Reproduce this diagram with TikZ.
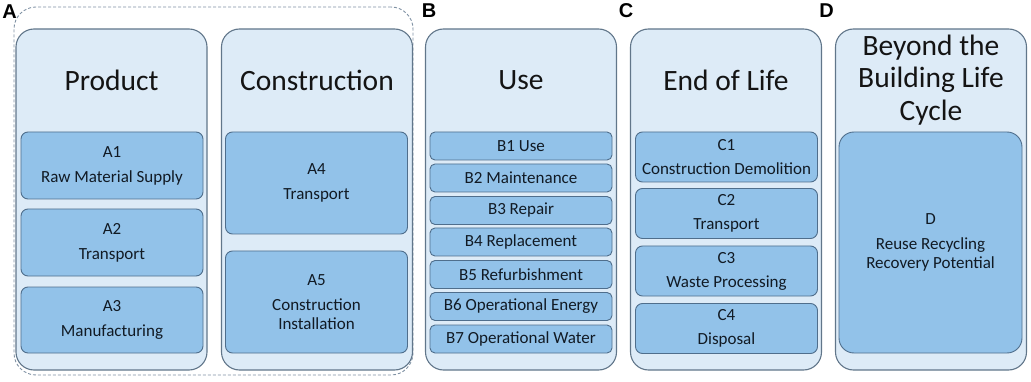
\documentclass[tikz,border=0pt]{standalone}
\usepackage{fontspec}
\setmainfont{Carlito}
\newfontfamily\letterfont{Liberation Sans}
\definecolor{panelfill}{HTML}{DDEBF7}
\definecolor{panelline}{HTML}{61768A}
\definecolor{boxfill}{HTML}{92C2E9}
\definecolor{boxline}{HTML}{4F6E8C}
\definecolor{groupline}{HTML}{7F91A3}
\definecolor{inktext}{HTML}{111A24}

\begin{document}
\begin{tikzpicture}[
	x=1pt, y=-1pt,
	panel/.style={ draw=panelline, fill=panelfill, line width=1.1pt, rounded corners=18pt, minimum width=191pt, minimum height=341pt, inner sep=0pt },
	stagebox/.style={ draw=boxline, fill=boxfill, line width=0.9pt, rounded corners=7pt, minimum width=182pt, inner sep=0pt, align=center, text=inktext, font=\fontsize{17}{19}\selectfont },
	title/.style={ align=center, text=black!92, font=\fontsize{29.5}{32.5}\selectfont },
	letter/.style={ font=\letterfont\bfseries\fontsize{20}{20}\selectfont, text=black }
]
\useasboundingbox (0,0) rectangle (1031,382);

% module A group
\node at (213.5,191) (grp) [draw=groupline, dash pattern=on 3pt off 2pt, line width=0.9pt, rounded corners=22pt, minimum width=399pt, minimum height=368pt] {};

\node at (111.5,199.5) (prod) [panel] {};
\node at (317,199.5) (cons) [panel] {};
\node at (521,199.5) (use) [panel] {};
\node at (726,199.5) (eol) [panel] {};
\node at (931,199.5) (bey) [panel] {};

\node at (9.5,11.5) (la) [letter] {A};
\node at (429,10.5) (lb) [letter] {B};
\node at (626,11) (lc) [letter] {C};
\node at (826.5,11) (ld) [letter] {D};

\node at (111.5,80) (tprod) [title] {Product};
\node at (317,80) (tcons) [title] {Construction};
\node at (521,80) (tuse) [title] {Use};
\node at (726,80) (teol) [title] {End of Life};
\node at (931,80) (tbey) [title] {Beyond the\\Building Life\\Cycle};

% product stage
\node at (112,165.5) (a1) [stagebox, minimum height=67pt] {A1\\[6pt]Raw Material Supply};
\node at (112,242.5) (a2) [stagebox, minimum height=67pt] {A2\\[6pt]Transport};
\node at (112,320) (a3) [stagebox, minimum height=66pt] {A3\\[6pt]Manufacturing};

% construction stage
\node at (316.5,183) (a4) [stagebox, minimum height=102pt] {A4\\[6pt]Transport};
\node at (316.5,302) (a5) [stagebox, minimum height=102pt] {A5\\[6pt]Construction\\Installation};

% use stage
\node at (521,146) (b1) [stagebox, minimum height=28pt, rounded corners=5pt] {B1 Use};
\node at (521,178) (b2) [stagebox, minimum height=28pt, rounded corners=5pt] {B2 Maintenance};
\node at (521,210.5) (b3) [stagebox, minimum height=28pt, rounded corners=5pt] {B3 Repair};
\node at (521,242) (b4) [stagebox, minimum height=28pt, rounded corners=5pt] {B4 Replacement};
\node at (521,274.5) (b5) [stagebox, minimum height=28pt, rounded corners=5pt] {B5 Refurbishment};
\node at (521,306.5) (b6) [stagebox, minimum height=28pt, rounded corners=5pt] {B6 Operational Energy};
\node at (521,339) (b7) [stagebox, minimum height=28pt, rounded corners=5pt] {B7 Operational Water};

% end of life stage
\node at (726.5,157) (c1) [stagebox, minimum height=50pt] {C1\\[5pt]Construction Demolition};
\node at (726.5,213.5) (c2) [stagebox, minimum height=50pt] {C2\\[5pt]Transport};
\node at (726.5,271) (c3) [stagebox, minimum height=50pt] {C3\\[5pt]Waste Processing};
\node at (726.5,328.5) (c4) [stagebox, minimum height=50pt] {C4\\[5pt]Disposal};

% beyond
\node at (930.5,242.5) (d) [stagebox, minimum width=183pt, minimum height=221pt, rounded corners=15pt] {};
\node at (930.5,242.5) (dtext) [align=center, text=inktext, font=\fontsize{17}{19}\selectfont] {D\\[6pt]Reuse Recycling\\Recovery Potential};

\end{tikzpicture}
\end{document}
